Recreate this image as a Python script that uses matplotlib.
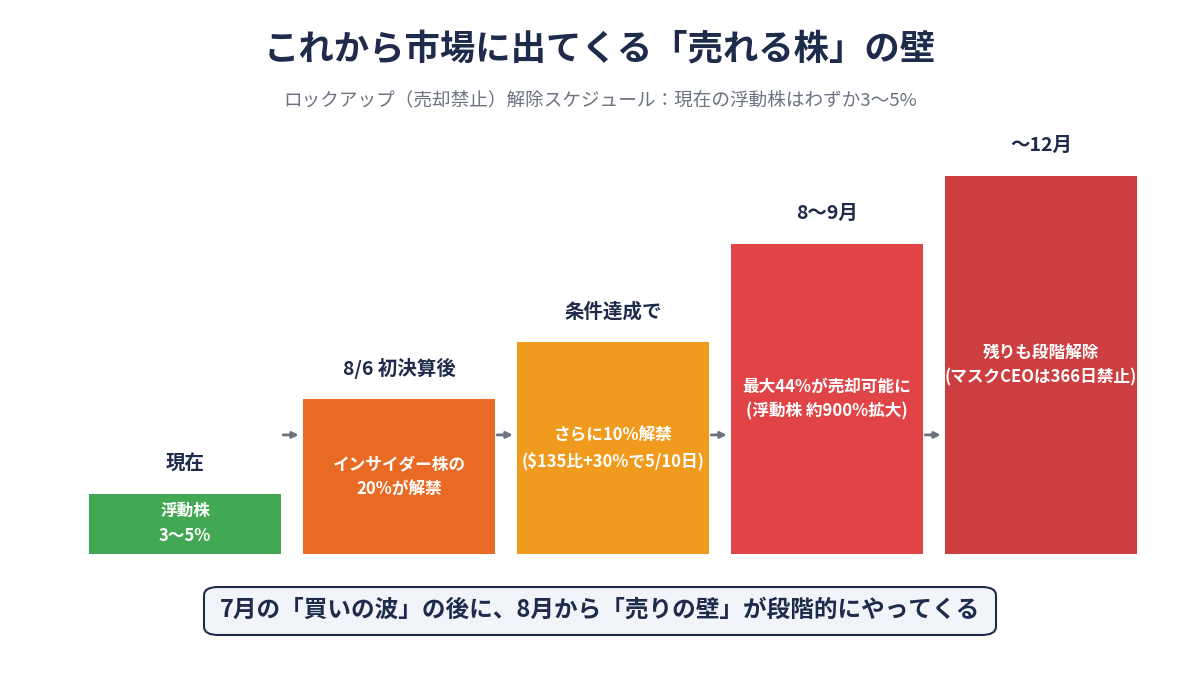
import matplotlib.pyplot as plt
from matplotlib.patches import FancyBboxPatch

plt.rcParams['font.family'] = ['Noto Sans CJK JP', 'DejaVu Sans']

# data
stages = ['現在', '8/6 初決算後', '条件達成で', '8〜9月', '〜12月']
details = ['浮動株\n3〜5%',
           'インサイダー株の\n20%が解禁',
           'さらに10%解禁\n($135比+30%で5/10日)',
           '最大44%が売却可能に\n(浮動株 約900%拡大)',
           '残りも段階解除\n(マスクCEOは366日禁止)']
heights = [16, 41, 56, 82, 100]
colors = ['#43a853', '#e86a25', '#f09a1e', '#e04447', '#cc3e3f']

title = 'これから市場に出てくる「売れる株」の壁'
subtitle = 'ロックアップ（売却禁止）解除スケジュール：現在の浮動株はわずか3〜5%'
footer = '7月の「買いの波」の後に、8月から「売りの壁」が段階的にやってくる'

navy = '#1e2b4b'

fig = plt.figure(figsize=(12, 6.79), dpi=100)
fig.patch.set_facecolor('white')

ax = fig.add_axes([0.065, 0.1841, 0.8917, 0.6392])
x = range(len(stages))
w = 0.897
bars = ax.bar(x, heights, width=w, color=colors, edgecolor='none')
ax.set_xlim(-0.5, len(stages) - 0.5)
ax.set_ylim(0, 114.8)
ax.axis('off')

for i, b in enumerate(bars):
    h = b.get_height()
    ax.annotate(stages[i], (i, h), xytext=(0, 22), textcoords='offset points',
                ha='center', va='center', fontsize=14, fontweight='bold', color=navy)
    ax.text(i, h / 2, details[i], ha='center', va='center', fontsize=12,
            fontweight='bold', color='white', linespacing=1.5)

# arrows between stages
for i in range(len(stages) - 1):
    ax.annotate('', xy=(i + 1 - w / 2 - 0.02, 31.5), xytext=(i + w / 2 + 0.01, 31.5),
                arrowprops=dict(arrowstyle='-|>', color='#6b7280', lw=2,
                                mutation_scale=9, shrinkA=0, shrinkB=0))

fig.text(0.5, 1 - 50 / 679, title, ha='center', va='center', fontsize=25.5,
         fontweight='bold', color=navy)
fig.text(0.5, 1 - 100 / 679, subtitle, ha='center', va='center', fontsize=13.4,
         color='#6b7280')

box = FancyBboxPatch((204 / 1200, 1 - 635 / 679), 792 / 1200, 48 / 679,
                     boxstyle='round,pad=0,rounding_size=0.012',
                     transform=fig.transFigure, facecolor='#f1f4f9',
                     edgecolor=navy, lw=1.5)
fig.patches.append(box)
fig.text(0.5, 1 - 610 / 679, footer, ha='center', va='center', fontsize=17,
         fontweight='bold', color=navy)

fig.savefig('out.png', dpi=100)
